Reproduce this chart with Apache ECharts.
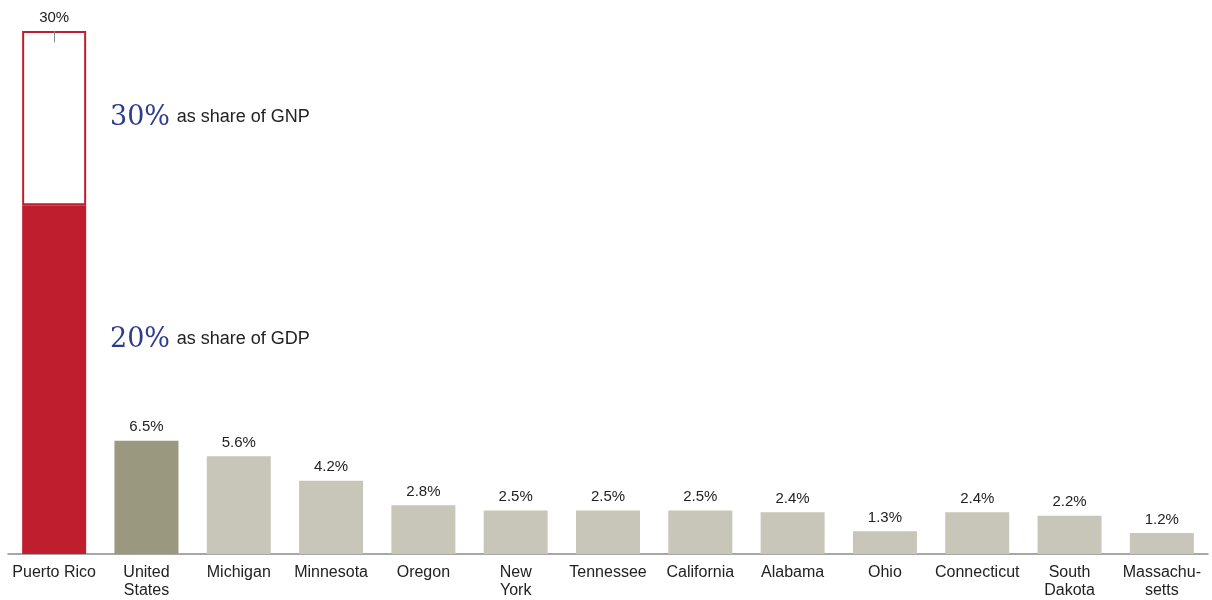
<!DOCTYPE html>
<html>
<head>
<meta charset="utf-8">
<style>
  html, body { margin: 0; padding: 0; background: #fff; }
  #chart { width: 1212px; height: 600px; }
</style>
<script src="https://cdn.jsdelivr.net/npm/echarts@6/dist/echarts.min.js"></script>
</head>
<body>
<div id="chart"></div>
<script>
// categories and values (% share)
var categories = ['Puerto Rico', 'United\nStates', 'Michigan', 'Minnesota', 'Oregon', 'New\nYork',
    'Tennessee', 'California', 'Alabama', 'Ohio', 'Connecticut', 'South\nDakota', 'Massachu-\nsetts'];
var gdpShare = [20, 6.5, 5.6, 4.2, 2.8, 2.5, 2.5, 2.5, 2.4, 1.3, 2.4, 2.2, 1.2];
var gnpShare = [30, null, null, null, null, null, null, null, null, null, null, null, null];

var barColors = ['#BE1E2D', '#9B9880'];
var otherColor = '#C8C6B8';

// extra part between GDP and GNP, stacked on top
var gnpExtra = gnpShare.map(function (v, i) {
    return v == null ? '-' : v - gdpShare[i];
});

var myChart = echarts.init(document.getElementById('chart'));
var option = {
    animation: false,
    grid: { left: 8, right: 4, top: 31, bottom: 42 },
    xAxis: {
        type: 'category',
        data: categories,
        axisLine: { lineStyle: { color: '#8a8a8a', width: 1.5 } },
        axisTick: { show: false },
        axisLabel: {
            interval: 0,
            color: '#222',
            fontFamily: 'Liberation Sans, Arial',
            fontSize: 16,
            lineHeight: 18,
            margin: 10
        }
    },
    yAxis: {
        type: 'value',
        min: 0,
        max: 30,
        show: false
    },
    series: [{
        name: 'GDP',
        type: 'bar',
        stack: 'pr',
        barWidth: 64,
        data: gdpShare.map(function (v, i) {
            return {
                value: v,
                itemStyle: { color: i < barColors.length ? barColors[i] : otherColor }
            };
        }),
        label: {
            show: true,
            position: 'top',
            distance: 6,
            color: '#222',
            fontFamily: 'Liberation Sans, Arial',
            fontSize: 15,
            formatter: function (p) {
                return p.dataIndex === 0 ? '' : p.value + '%';
            }
        }
    }, {
        name: 'GNP',
        type: 'bar',
        stack: 'pr',
        barWidth: 64,
        data: gnpExtra,
        itemStyle: { color: '#fff', borderColor: '#BE1E2D', borderWidth: 2 },
        label: {
            show: true,
            position: 'top',
            distance: 6,
            color: '#222',
            fontFamily: 'Liberation Sans, Arial',
            fontSize: 15,
            formatter: function (p) {
                return gnpShare[p.dataIndex] + '%';
            }
        },
        markLine: {
            silent: true,
            symbol: 'none',
            label: { show: false },
            lineStyle: { color: '#888', width: 1, type: 'solid' },
            data: [[{ coord: [0, 30] }, { coord: [0, 29.35] }]]
        }
    }],
    graphic: [{
        type: 'text',
        left: 110,
        top: 104,
        style: {
            text: '{n|30%}  {t|as share of GNP}',
            rich: {
                n: { fontFamily: 'DejaVu Serif, Liberation Serif, serif', fontSize: 27, fill: '#2F3C8C' },
                t: { fontFamily: 'Liberation Sans, Arial', fontSize: 18, fill: '#222' }
            }
        }
    }, {
        type: 'text',
        left: 110,
        top: 326,
        style: {
            text: '{n|20%}  {t|as share of GDP}',
            rich: {
                n: { fontFamily: 'DejaVu Serif, Liberation Serif, serif', fontSize: 27, fill: '#2F3C8C' },
                t: { fontFamily: 'Liberation Sans, Arial', fontSize: 18, fill: '#222' }
            }
        }
    }]
};
myChart.setOption(option);
</script>
</body>
</html>
